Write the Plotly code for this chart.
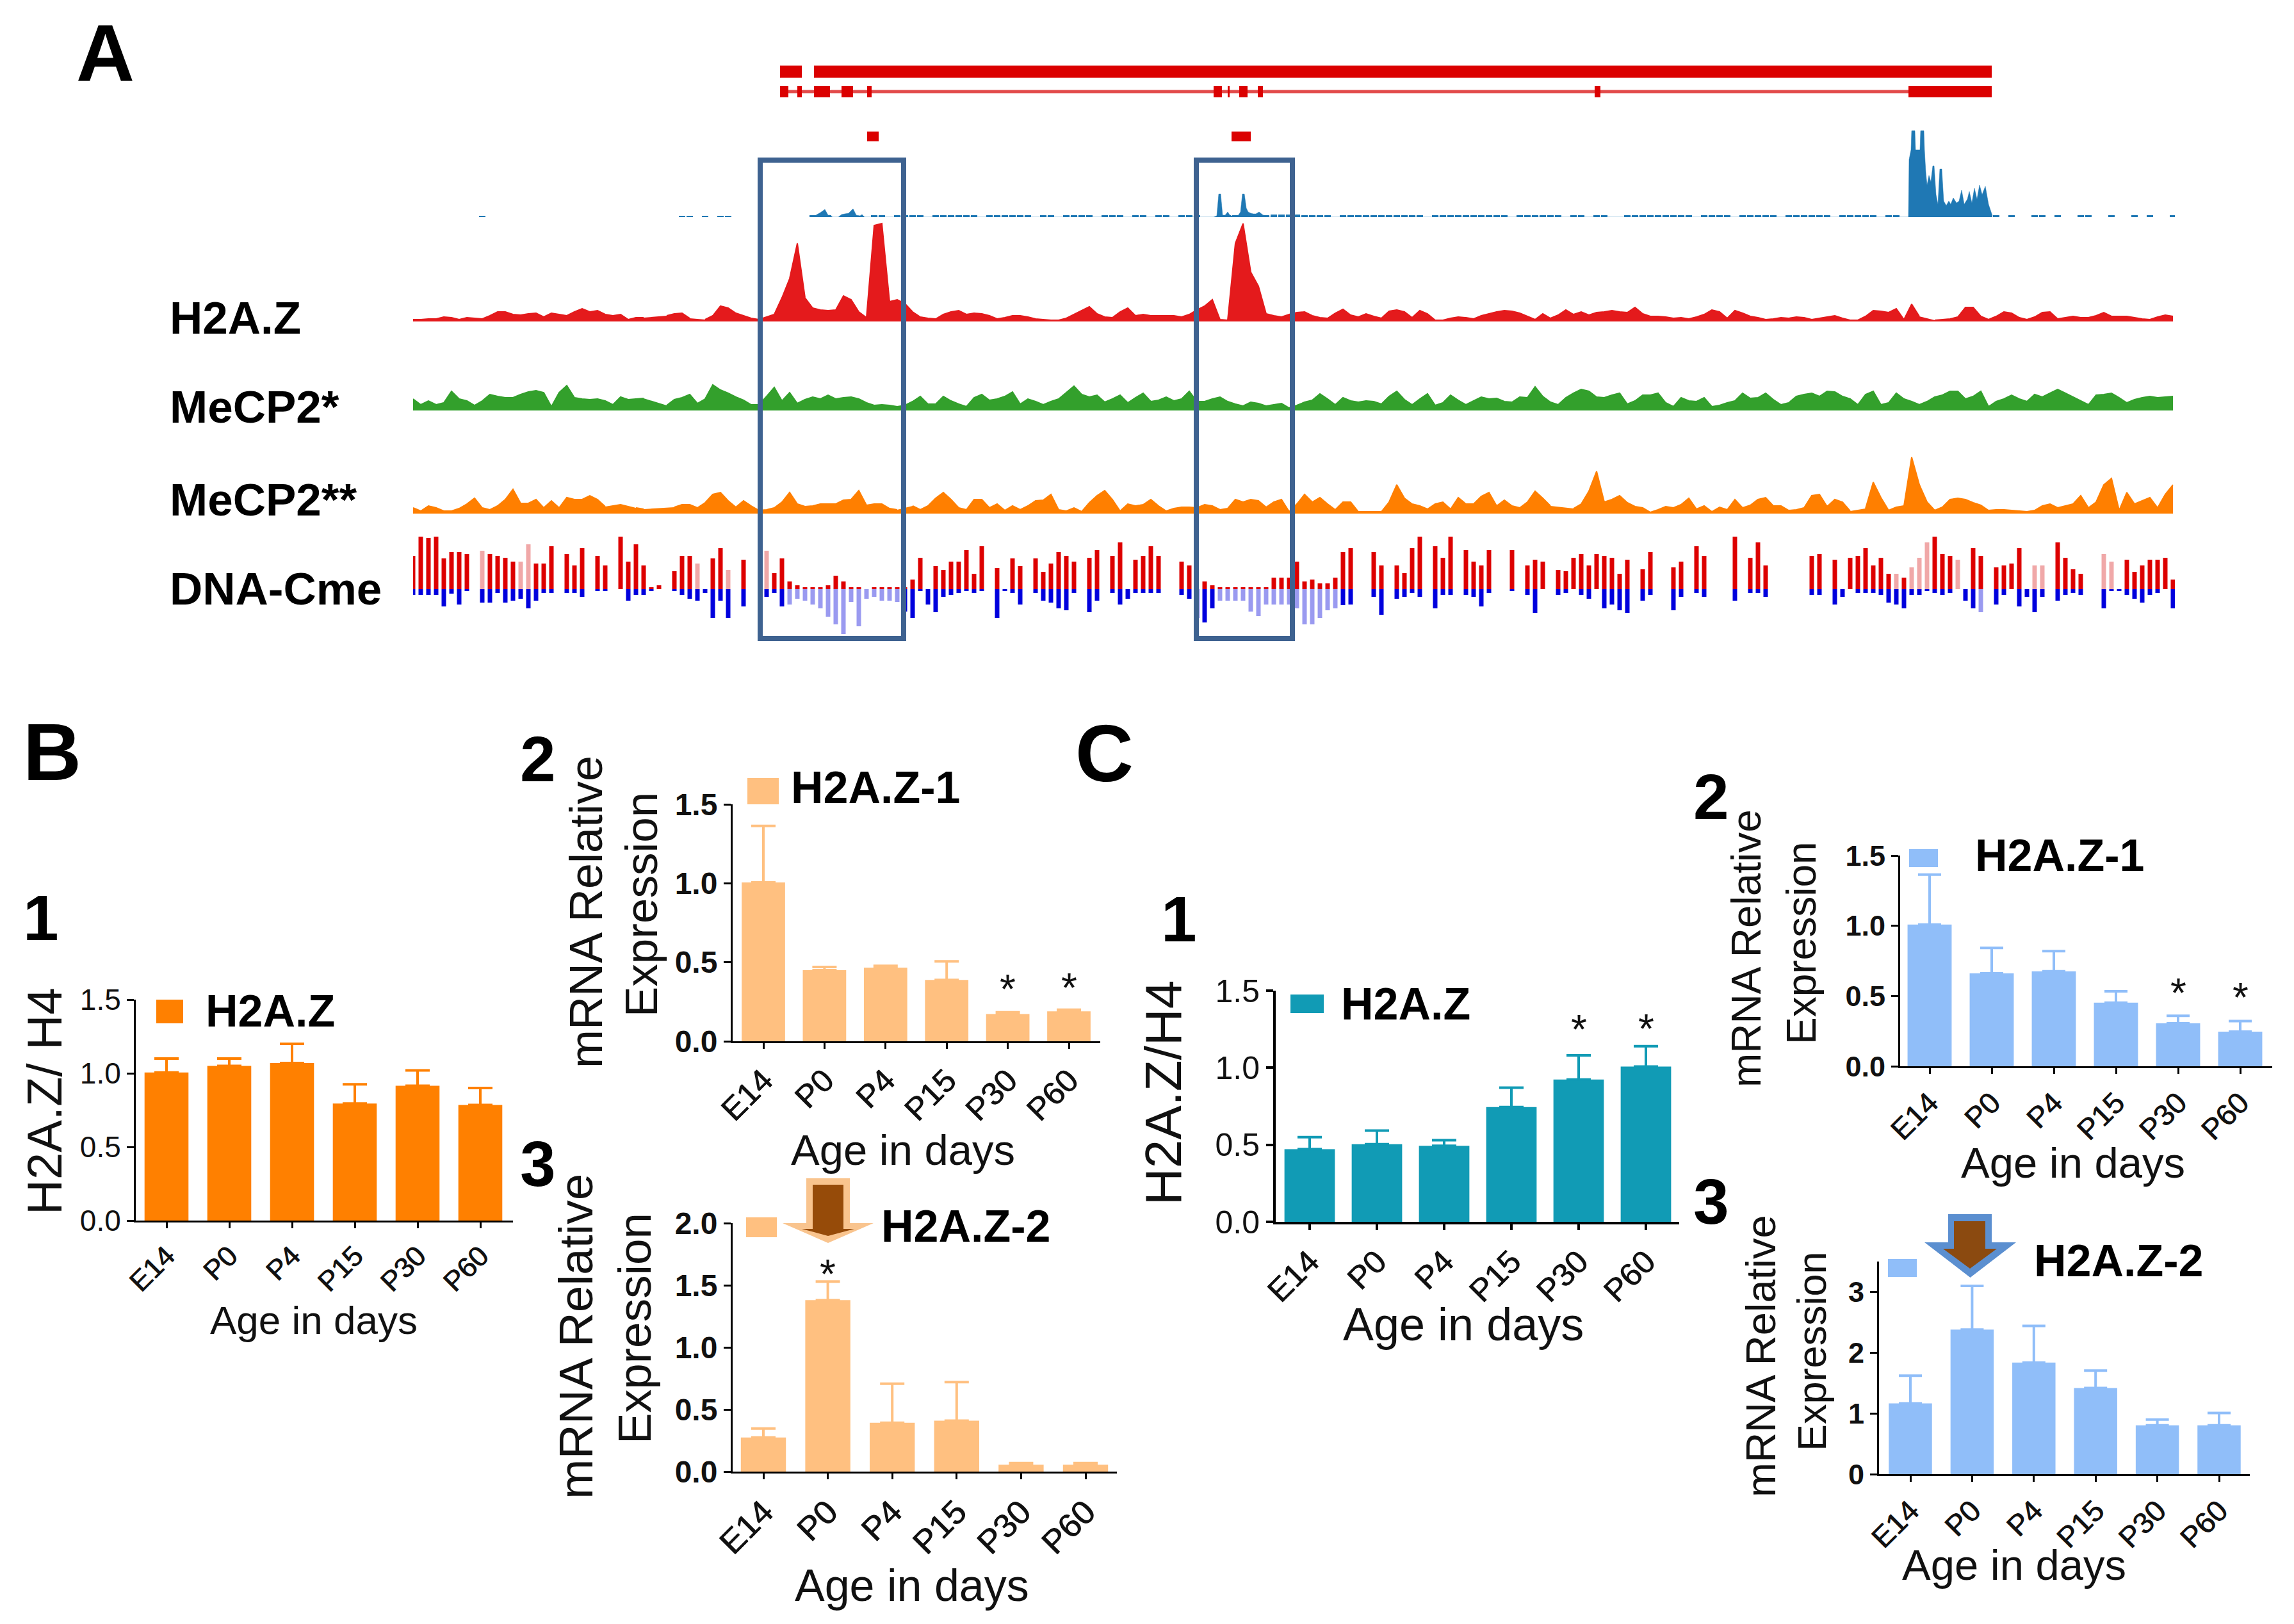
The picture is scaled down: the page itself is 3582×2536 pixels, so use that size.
import plotly.graph_objects as go

W, H = 3582, 2536
ages = ["E14", "P0", "P4", "P15", "P30", "P60"]

# bar panels, values and upper error ends
b1_vals = [1.005, 1.05, 1.07, 0.795, 0.915, 0.785]
b1_tops = [1.10, 1.10, 1.20, 0.925, 1.02, 0.90]
b2_vals = [1.005, 0.45, 0.466, 0.388, 0.172, 0.19]
b2_tops = [1.363, 0.47, 0.477, 0.506, 0.183, 0.20]
b2_stars = [("P30", 0.36), ("P60", 0.37)]
b3_vals = [0.274, 1.38, 0.393, 0.41, 0.055, 0.055]
b3_tops = [0.347, 1.53, 0.708, 0.72, 0.068, 0.068]
b3_stars = [("P0", 1.63)]
c1_vals = [0.472, 0.504, 0.493, 0.745, 0.923, 1.008]
c1_tops = [0.549, 0.592, 0.53, 0.87, 1.08, 1.14]
c1_stars = [("P30", 1.28), ("P60", 1.286)]
c2_vals = [1.009, 0.661, 0.676, 0.453, 0.306, 0.246]
c2_tops = [1.364, 0.842, 0.82, 0.533, 0.359, 0.321]
c2_stars = [("P30", 0.555), ("P60", 0.525)]
c3_vals = [1.164, 2.38, 1.837, 1.417, 0.805, 0.805]
c3_tops = [1.62, 3.1, 2.44, 1.706, 0.90, 1.006]

# genome tracks, sampled every 12 px along the region
TRACK_STEP = 12
h2az = [3,3,4,4,7,6,3,6,5,4,9,15,15,11,10,12,13,7,13,11,9,15,20,15,17,11,9,11,3,6,6,None,None,9,12,13,5,None,3,9,24,21,13,9,5,3,7,11,37,67,122,37,21,18,17,18,40,34,15,6,150,153,31,34,28,15,7,5,4,11,15,17,11,13,12,9,4,6,9,9,7,4,3,2,2,5,11,17,23,12,7,6,15,21,9,11,9,9,9,9,7,11,18,24,34,3,2,122,153,77,55,12,9,7,
        11,14,15,9,6,5,13,19,10,7,12,8,5,16,18,15,6,17,12,2,2,5,7,6,4,9,12,15,17,16,13,8,3,12,5,10,18,11,15,10,14,15,17,15,14,22,12,8,8,7,5,6,4,7,11,18,15,5,17,13,8,6,3,4,6,5,7,6,3,5,7,9,5,2,2,8,17,16,14,20,3,27,8,None,2,3,4,7,22,22,8,3,8,15,13,6,3,7,14,15,4,6,8,6,6,9,14,8,8,8,6,4,3,7,10,8]
mecp2_a = [18,9,15,9,12,30,18,15,8,15,25,22,20,20,25,29,31,28,6,28,39,20,18,17,18,15,9,21,17,18,19,None,None,8,17,20,25,11,18,40,32,27,21,16,9,9,22,36,15,28,11,17,21,18,24,18,20,21,18,12,8,9,8,6,8,14,22,10,10,22,15,10,6,20,25,16,18,22,29,10,18,14,9,14,18,28,38,25,21,24,13,18,24,12,20,27,14,16,21,15,18,30,14,14,18,21,14,10,7,13,11,7,9,11,
           4,8,13,16,26,18,9,20,15,13,15,14,10,22,30,17,9,18,26,8,12,24,16,9,15,21,18,19,14,13,21,20,37,22,13,9,20,27,33,30,21,20,24,27,10,15,24,24,27,12,6,20,15,14,20,6,8,12,15,27,19,20,27,17,9,12,22,25,27,22,30,29,22,18,9,25,30,9,12,27,18,14,9,14,21,24,30,30,18,22,30,6,14,18,24,18,14,25,21,27,33,27,21,15,9,24,25,27,20,12,17,20,22,20,21,22]
mecp2_b = [9,4,12,9,4,4,8,15,24,9,6,12,22,38,16,16,22,9,20,9,25,22,22,28,22,11,None,15,None,9,7,None,None,None,10,14,14,9,17,30,33,20,10,20,12,5,6,9,18,33,15,11,12,15,15,15,21,22,36,13,15,15,8,6,None,12,6,12,24,33,22,9,6,22,22,9,15,5,12,6,12,20,21,30,6,4,9,3,17,28,36,22,4,15,12,14,22,12,4,8,10,10,9,14,12,6,8,22,18,22,20,10,18,22,
           3,15,30,18,25,15,6,18,18,3,3,3,3,18,45,24,15,12,7,15,18,7,25,15,15,27,33,12,21,12,9,18,35,24,12,None,None,8,15,35,66,18,22,28,17,11,9,2,6,11,9,14,24,7,12,3,10,6,22,9,13,22,25,12,12,5,6,9,28,30,11,22,18,4,None,8,49,25,5,10,12,88,45,18,5,10,22,24,22,17,13,5,6,6,5,4,3,5,12,15,9,12,15,28,9,18,45,55,5,33,15,20,25,9,30,45]
cme_up = [52,82,80,82,48,58,58,55,0,60,55,52,49,43,43,70,40,40,67,0,55,37,64,0,52,37,0,82,43,70,37,3,6,0,28,52,52,40,0,48,64,30,0,46,0,0,60,25,48,12,6,3,3,3,6,21,12,3,3,0,3,3,3,3,3,15,49,0,36,30,43,43,61,24,67,0,33,0,48,36,0,48,27,40,58,52,43,0,49,61,0,52,73,0,46,52,67,52,0,0,43,37,0,12,6,3,3,3,3,3,3,3,18,18,
          18,43,12,15,9,9,18,58,64,0,0,58,37,0,37,25,64,82,0,67,49,82,0,61,43,37,61,0,0,61,0,37,46,43,0,30,28,49,55,37,55,52,49,24,46,0,31,58,0,0,34,43,0,67,52,0,0,0,82,0,49,73,37,0,0,0,0,0,52,55,0,46,0,49,52,64,37,49,24,24,18,34,49,73,82,55,52,46,0,64,52,0,34,37,40,64,0,37,37,0,73,49,31,24,0,0,55,43,0,46,27,37,46,46,49,15]
cme_down = [9,9,9,9,27,7,24,3,0,21,21,6,21,18,15,30,18,6,6,0,6,6,12,0,3,3,0,0,18,9,9,3,0,0,3,9,15,18,6,45,18,45,0,27,0,0,12,6,27,24,15,18,24,30,43,55,70,20,58,15,12,18,18,20,35,45,3,24,36,12,9,6,3,6,3,0,45,3,6,24,0,6,18,21,30,33,6,0,36,18,0,6,24,15,6,6,6,6,0,0,9,15,45,52,30,18,18,18,18,35,42,24,24,24,
            24,30,55,55,45,33,30,25,24,0,0,12,40,0,15,12,6,12,0,30,9,9,0,9,12,27,6,0,0,3,0,9,37,0,0,9,6,0,9,15,0,30,24,33,37,0,18,9,0,0,33,12,0,6,12,0,0,0,18,0,6,6,12,0,0,0,0,0,9,9,0,24,12,0,6,6,6,9,21,24,30,9,9,3,6,9,6,0,18,30,36,0,24,9,0,27,12,36,12,0,18,9,6,9,0,0,30,3,3,9,15,21,9,6,0,30]
cme_pale_red = [(107, 116), (165, 180), (437, 450), (490, 500), (550, 556), (937, 945), (2310, 2325), (2340, 2367), (2405, 2420), (2530, 2545), (2635, 2655)]
cme_pale_blue = [(580, 760), (1250, 1447), (1380, 1410), (2440, 2450)]

rna_base = [0,0,0,0,0,0,0,0,0,2,0,0,0,0,0,0,0,0,0,0,0,0,0,0,0,0,0,0,0,0,0,0,0,0,0,2,2,0,2,0,2,2,0,0,0,0,0,0,0,0,0,0,
            3,0,3,0,0,0,0,0,3,3,0,3,3,3,3,0,3,3,3,3,3,3,0,3,3,3,3,3,3,0,3,3,0,3,3,3,3,0,3,3,3,0,3,3,0,3,3,0,
            3,3,3,0,0,3,3,3,3,3,0,3,4,4,4,4,3,3,3,3,0,3,3,3,3,3,3,3,3,3,3,3,0,3,3,3,3,3,3,3,3,3,3,0,3,3,3,3,
            3,3,0,3,3,0,3,3,0,0,3,3,3,3,3,3,3,3,3,0,3,3,3,3,0,3,3,3,3,3,0,3,3,3,3,3,3,0,3,3,3,3,3,0,3,3,
            0,0,0,0,0,0,0,0,0,0,0,0,
            3,0,3,0,0,3,3,0,3,0,0,3,3,0,0,3,0,0,3,0,3,0,0,3]
rna_x = [625,629,636,643,648,651,655,664,669,674,680,687,692,698,701,705,
         1250,1255,1258,1261,1264,1268,1272,1276,1288,1292,1295,1298,1301,1304,1308,1312,1316,1321,1326,1333,
         2335,2336,2339,2340,2345,2346,2353,2354,2359,2360,2362,2364,2367,2370,2373,2375,2378,2381,2384,2387,2390,2394,2398,2401,2405,2410,2414,2418,2422,2427,2430,2434,2438,2442,2446,2450,2455,2460,2466]
rna_y = [0,3,7,12,3,3,0,0,4,5,6,13,3,2,4,0,
         0,2,36,36,3,3,8,2,2,8,36,36,14,8,6,5,5,8,4,0,
         0,90,105,135,135,105,105,135,135,105,70,50,65,55,80,80,35,20,75,75,25,18,25,20,30,22,25,42,20,28,40,22,45,28,50,35,48,20,2]

gene_full_start = [573, 626]
gene_full_end = [607, 2465]
gene_iso_start = [573, 600, 626, 669, 709, 1250, 1272, 1290, 1319, 1845, 2335]
gene_iso_end = [586, 607, 651, 687, 716, 1263, 1275, 1303, 1327, 1854, 2465]
cpg_start = [709, 1278]
cpg_end = [727, 1308]


def fx(px):
    return px / W


def fy(px):
    return 1 - px / H


fig = go.Figure()
annos = []
shapes = []


def text(s, x, y, size, bold=False, angle=0, color="#111111", anchor="center"):
    annos.append(dict(text=s, x=fx(x), y=fy(y), xref="paper", yref="paper", showarrow=False,
                      xanchor=anchor, yanchor="middle", textangle=angle,
                      font=dict(family="Liberation Sans", size=size, color="#000000" if bold else color,
                                weight="bold" if bold else "normal")))


def rect(x0, y0, x1, y1, fill=None, line=None, width=0):
    shapes.append(dict(type="rect", xref="paper", yref="paper", x0=fx(x0), x1=fx(x1), y0=fy(y0), y1=fy(y1),
                       fillcolor=fill or "rgba(0,0,0,0)", line=dict(color=line or "rgba(0,0,0,0)", width=width)))


def arrow(xl, xr, ytop, yneck, hl, hr, ytip, color):
    xm = (hl + hr) / 2
    pts = [(xl, ytop), (xr, ytop), (xr, yneck), (hr, yneck), (xm, ytip), (hl, yneck), (xl, yneck)]
    path = "M " + " L ".join(f"{fx(a):.5f} {fy(b):.5f}" for a, b in pts) + " Z"
    shapes.append(dict(type="path", xref="paper", yref="paper", path=path, fillcolor=color, line=dict(width=0)))


def panel(n, vals, tops, color, left, right, top, bottom, t0, step, ymax, tickvals, fmt, barw, cap,
          lw, tick_size, xtick_size, tick_bold, stars=()):
    xname, yname = f"x{n}", f"y{n}"
    fig.add_trace(go.Bar(x=ages, y=vals, width=barw, marker=dict(color=color, line=dict(width=0)),
                         error_y=dict(type="data", symmetric=False, array=[t - v for t, v in zip(tops, vals)],
                                      arrayminus=[0] * 6, color=color, thickness=4, width=cap),
                         xaxis=xname, yaxis=yname, showlegend=False))
    yfont = dict(family="Liberation Sans", size=tick_size, color="#111111", weight="bold" if tick_bold else "normal")
    xfont = dict(family="Liberation Sans", size=xtick_size, color="#111111", shadow="1px 0 0 #111111")
    fig.update_layout({
        f"xaxis{n}": dict(domain=[fx(left), fx(right)], anchor=yname, type="category", categoryorder="array",
                          categoryarray=ages, range=[(left - t0) / step, (right - t0) / step],
                          showline=True, linecolor="black", linewidth=lw, ticks="outside", ticklen=9,
                          tickwidth=lw, tickcolor="black", tickangle=-45, tickfont=xfont, showgrid=False,
                          automargin=False),
        f"yaxis{n}": dict(domain=[fy(bottom), fy(top)], anchor=xname, range=[0, ymax], tickvals=tickvals,
                          tickformat=fmt, showline=True, linecolor="black", linewidth=lw, ticks="outside",
                          ticklen=11, tickwidth=lw, tickcolor="black", tickfont=yfont, showgrid=False,
                          zeroline=False, automargin=False),
    })
    for cat, val in stars:
        annos.append(dict(text="*", x=cat, y=val, xref=xname, yref=yname, showarrow=False, yshift=-8,
                          font=dict(family="Liberation Sans", size=64, color="#111111")))


panel(1, b1_vals, b1_tops, "#FF8000", 212, 801, 1561, 1906, 260, 98, 1.5, [0, 0.5, 1, 1.5], ".1f", 0.70, 19, 3, 46, 44, False)
panel(2, b2_vals, b2_tops, "#FFC080", 1144, 1718, 1256, 1626, 1192, 95.4, 1.5, [0, 0.5, 1, 1.5], ".1f", 0.71, 19, 3, 48, 50, True, b2_stars)
panel(3, b3_vals, b3_tops, "#FFC080", 1144, 1744, 1910, 2298, 1192, 100.6, 2, [0, 0.5, 1, 1.5, 2], ".1f", 0.70, 19, 3, 48, 52, True, b3_stars)
panel(4, c1_vals, c1_tops, "#119BB5", 1992, 2622, 1547, 1908, 2045, 105, 1.5, [0, 0.5, 1, 1.5], ".1f", 0.75, 19, 4, 50, 50, False, c1_stars)
panel(5, c2_vals, c2_tops, "#90BEF9", 2967, 3548, 1336, 1665, 3013, 97, 1.5, [0, 0.5, 1, 1.5], ".1f", 0.71, 18, 3, 45, 46, True, c2_stars)
panel(6, c3_vals, c3_tops, "#90BEF9", 2934, 3513, 1970, 2302, 2983, 96.4, 3.5, [0, 1, 2, 3], "d", 0.70, 18, 3, 45, 46, True)

# genome browser part, all tracks share one x axis
TRACK_X0, TRACK_X1 = 645, 3396
fig.update_layout(xaxis7=dict(domain=[fx(TRACK_X0), fx(TRACK_X1)], range=[0, TRACK_X1 - TRACK_X0], visible=False, anchor="y7", automargin=False))


def track_axis(n, top, bottom, lo, hi):
    fig.update_layout({f"yaxis{n}": dict(domain=[fy(bottom), fy(top)], range=[lo, hi], visible=False, anchor="x7", automargin=False)})


track_axis(7, 199, 339, 0, 140)
track_axis(8, 336, 502, 0, 166)
track_axis(9, 580, 641, 0, 61)
track_axis(10, 701, 802, 0, 101)
track_axis(11, 835, 1005, -85, 85)
track_axis(12, 95, 230, 135, 0)

fig.add_trace(go.Bar(x=[i * TRACK_STEP for i in range(len(rna_base))], y=rna_base, width=10,
                     marker=dict(color="#1F78B4", line=dict(width=0)), xaxis="x7", yaxis="y7", showlegend=False))
fig.add_trace(go.Scatter(x=rna_x, y=rna_y, mode="lines", fill="tozeroy", fillcolor="#1F78B4",
                         line=dict(color="#1F78B4", width=0.5, simplify=False), xaxis="x7", yaxis="y7", showlegend=False))

for series, yname, col in [(h2az, "y8", "#E41A1C"), (mecp2_a, "y9", "#33A02C"), (mecp2_b, "y10", "#FF7F00")]:
    fig.add_trace(go.Scatter(x=[i * TRACK_STEP for i in range(len(series))], y=series, mode="lines", fill="tozeroy",
                             fillcolor=col, line=dict(color=col, width=2, simplify=False), xaxis="x7", yaxis=yname,
                             connectgaps=False, showlegend=False))


def shade(pos, ranges, base, pale):
    return pale if any(a <= pos <= b for a, b in ranges) else base


pos_up = [i * TRACK_STEP for i in range(len(cme_up))]
pos_down = [i * TRACK_STEP for i in range(len(cme_down))]
fig.add_trace(go.Bar(x=pos_up, y=cme_up, width=7, xaxis="x7", yaxis="y11", showlegend=False,
                     marker=dict(color=[shade(p, cme_pale_red, "#DD0000", "#F0A8A8") for p in pos_up], line=dict(width=0))))
fig.add_trace(go.Bar(x=pos_down, y=[-v for v in cme_down], width=7, xaxis="x7", yaxis="y11", showlegend=False,
                     marker=dict(color=[shade(p, cme_pale_blue, "#0000DD", "#9A9AF0") for p in pos_down], line=dict(width=0))))

# gene models, intron line runs between the exons of the lower transcript
intron_x, intron_y = [], []
for a, b in zip(gene_iso_end[:-1], gene_iso_start[1:]):
    intron_x += [a, b, None]
    intron_y += [48, 48, None]
fig.add_trace(go.Scatter(x=intron_x, y=intron_y, mode="lines", xaxis="x7", yaxis="y12",
                         line=dict(color="#E24A4A", width=5), showlegend=False))
fig.add_trace(go.Bar(y=[17] * len(gene_full_start), x=[e - s for s, e in zip(gene_full_start, gene_full_end)], base=gene_full_start,
                     orientation="h", width=19, marker=dict(color="#DB0000", line=dict(width=0)), xaxis="x7", yaxis="y12", showlegend=False))
fig.add_trace(go.Bar(y=[48] * len(gene_iso_start), x=[e - s for s, e in zip(gene_iso_start, gene_iso_end)], base=gene_iso_start,
                     orientation="h", width=18, marker=dict(color="#DB0000", line=dict(width=0)), xaxis="x7", yaxis="y12", showlegend=False))
fig.add_trace(go.Bar(y=[118] * len(cpg_start), x=[e - s for s, e in zip(cpg_start, cpg_end)], base=cpg_start,
                     orientation="h", width=15, marker=dict(color="#DB0000", line=dict(width=0)), xaxis="x7", yaxis="y12", showlegend=False))

# highlight boxes
rect(1187, 250, 1411, 997, line="#3E6290", width=8)
rect(1868, 250, 2018, 997, line="#3E6290", width=8)

# panel letters and numbers
text("A", 164, 82, 126, True)
text("B", 81, 1174, 126, True)
text("C", 1724, 1176, 126, True)
text("1", 64, 1433, 100, True)
text("2", 840, 1185, 100, True)
text("3", 840, 1817, 100, True)
text("1", 1841, 1435, 100, True)
text("2", 2672, 1244, 100, True)
text("3", 2672, 1876, 100, True)

# track names
text("H2A.Z", 263, 496, 71, True, anchor="left")
text("MeCP2*", 263, 635, 71, True, anchor="left")
text("MeCP2**", 263, 781, 71, True, anchor="left")
text("DNA-Cme", 263, 920, 71, True, anchor="left")

# y titles
text("H2A.Z/ H4", 69, 1720, 76, angle=-90)
text("mRNA Relative", 915, 1424, 72, angle=-90)
text("Expression", 1001, 1413, 71, angle=-90)
text("mRNA Relative", 899, 2087, 75, angle=-90)
text("Expression", 990, 2074, 73, angle=-90)
text("H2A.Z/H4", 1816, 1706, 80, angle=-90)
text("mRNA Relative", 2727, 1481, 64, angle=-90)
text("Expression", 2813, 1473, 64, angle=-90)
text("mRNA Relative", 2749, 2118, 65, angle=-90)
text("Expression", 2829, 2110, 63, angle=-90)

# x titles
text("Age in days", 490, 2061, 62)
text("Age in days", 1410, 1795, 67)
text("Age in days", 1424, 2476, 70)
text("Age in days", 2285, 2068, 72)
text("Age in days", 3237, 1815, 67)
text("Age in days", 3145, 2443, 67)

# legend keys and names
rect(244, 1561, 286, 1598, fill="#FF8000")
text("H2A.Z", 422, 1579, 70, True)
rect(1167, 1215, 1216, 1256, fill="#FFC080")
text("H2A.Z-1", 1367, 1230, 70, True)
rect(1165, 1901, 1213, 1932, fill="#FFC080")
text("H2A.Z-2", 1508, 1915, 70, True)
rect(2015, 1553, 2067, 1582, fill="#119BB5")
text("H2A.Z", 2195, 1568, 70, True)
rect(2981, 1326, 3026, 1354, fill="#90BEF9")
text("H2A.Z-1", 3216, 1336, 70, True)
rect(2948, 1966, 2993, 1994, fill="#90BEF9")
text("H2A.Z-2", 3308, 1969, 70, True)

# down arrows
arrow(1259, 1327, 1840, 1910, 1222, 1364, 1941, "#F9C48E")
arrow(1269, 1317, 1850, 1919, 1252, 1334, 1930, "#964B09")
arrow(3042, 3110, 1896, 1940, 3005, 3148, 1995, "#5B8FD0")
arrow(3051, 3100, 1907, 1950, 3034, 3118, 1981, "#8B4A10")

# subplots overlap in the browser tracks, so their backgrounds must stay see-through
fig.update_layout(template="none", width=W, height=H, margin=dict(l=0, r=0, t=0, b=0, pad=0), autosize=False,
                  plot_bgcolor="rgba(0,0,0,0)", paper_bgcolor="white", barmode="overlay", annotations=annos, shapes=shapes)
fig.write_html("out.html", post_script="document.body.style.margin='0';", config={"displayModeBar": False})
